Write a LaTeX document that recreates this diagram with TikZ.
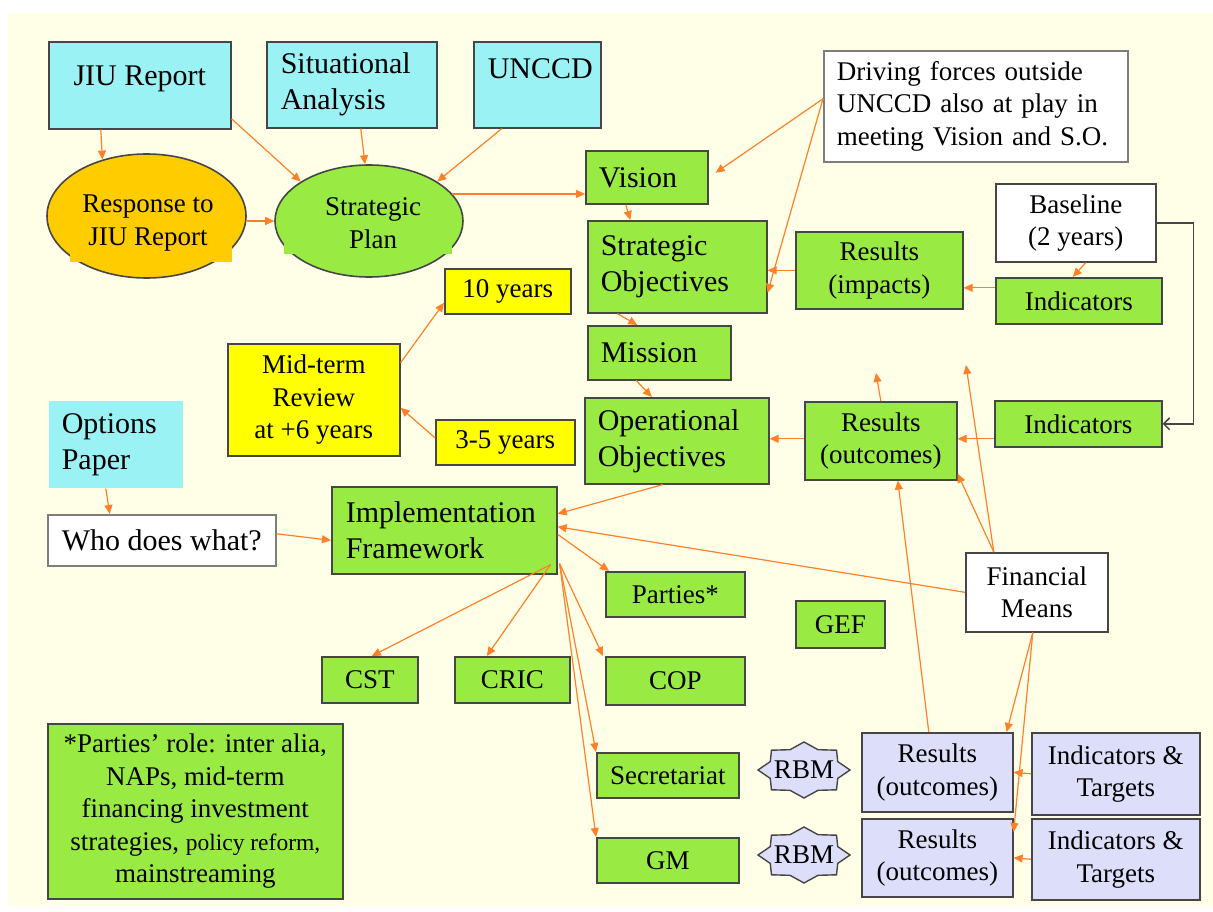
\documentclass[tikz,border=0pt]{standalone}
\usepackage{fontspec}
\setmainfont{Liberation Serif}
\usetikzlibrary{arrows.meta,shapes.geometric}
\definecolor{cream}{RGB}{255,255,232}
\definecolor{cyanbox}{RGB}{155,242,245}
\definecolor{greenbox}{RGB}{153,235,68}
\definecolor{goldbox}{RGB}{255,204,0}
\definecolor{yelbox}{RGB}{255,255,0}
\definecolor{lavbox}{RGB}{221,222,250}
\definecolor{arr}{RGB}{255,128,40}
\definecolor{edge}{RGB}{70,70,70}
\definecolor{greyedge}{RGB}{125,125,125}
\newcommand\fntA{\fontsize{27}{32.5}\selectfont}
\newcommand\fntB{\fontsize{30}{36}\selectfont}
\begin{document}
\begin{tikzpicture}[x=1pt,y=-1pt,
  bx/.style={draw=edge, line width=1.6pt, anchor=north west, inner sep=0pt, font=\fntA, align=center},
  lt/.style={align=left, text width=#1, inner xsep=13pt, font=\fntB},
  sz/.style 2 args={minimum width=#1, minimum height=#2},
  ar/.style={draw=arr, line width=1.2pt, -{Triangle[length=9pt,width=8pt]}},
  blk/.style={draw=edge, line width=1.5pt, -{Straight Barb[length=6pt,width=12pt]}},
  ell/.style={ellipse, draw=edge, line width=1.6pt, inner sep=0pt},
  rbmstyle/.style={draw=edge, line width=1.4pt, fill=lavbox},
  txt/.style={font=\fntA, align=center, inner sep=0pt}
]
\useasboundingbox (0,0) rectangle (1213,912);
\fill[white] (0,0) rectangle (1213,912);
\fill[cream] (8,13) rectangle (1213,906);

% top row
\node[bx, fill=cyanbox, sz={182pt}{87pt}, font=\fntB] (jiu) at (48,41) {\raisebox{6pt}[\height][\depth]{JIU Report}};
\node[bx, fill=cyanbox, sz={170pt}{86pt}, lt=142pt, inner xsep=14pt] (sit) at (266,41) {Situational\\Analysis};
\node[bx, fill=cyanbox, sz={127pt}{86pt}, lt=99pt, inner xsep=14pt] (unccd) at (473,41) {\raisebox{16pt}[\height][\depth]{UNCCD}};
\node[bx, draw=greyedge, fill=white, sz={304pt}{111pt}, lt=278pt, font=\fntA] (drive) at (823,50) {Driving forces outside\\UNCCD also at play in\\meeting Vision and S.O.};

% ellipses
\node[ell, fill=goldbox, minimum width=199pt, minimum height=124pt] (resp) at (146.5,216) {};
\fill[goldbox] (70,200) rectangle (232,262);
\node[txt] (resptxt) at (148,223) {Response to\\JIU Report};
\node[ell, fill=greenbox, minimum width=188pt, minimum height=112pt] (sp) at (369,221) {};
\fill[greenbox] (284,200) rectangle (452,254);
\node[txt] (sptxt) at (373,223) {Strategic\\Plan};

% vision / objectives column
\node[bx, fill=greenbox, sz={122pt}{53pt}, lt=96pt] (vision) at (585,150) {Vision};
\node[bx, fill=greenbox, sz={179pt}{92pt}, lt=153pt] (so) at (587,220) {Strategic\\Objectives};
\node[bx, fill=greenbox, sz={143pt}{54pt}, lt=117pt] (mission) at (587,325) {Mission};
\node[bx, fill=greenbox, sz={184pt}{86pt}, lt=158pt] (oo) at (584,397) {Operational\\Objectives};

% results / indicators
\node[bx, fill=greenbox, sz={167pt}{77pt}] (resimp) at (795,231) {Results\\(impacts)};
\node[bx, fill=white, sz={160pt}{78pt}] (base) at (995,183) {Baseline\\(2 years)};
\node[bx, fill=greenbox, sz={166pt}{46pt}] (indtop) at (995,277) {Indicators};
\node[bx, fill=greenbox, sz={152pt}{78pt}] (resout) at (804,401) {Results\\(outcomes)};
\node[bx, fill=greenbox, sz={167pt}{46pt}] (indmid) at (994,400) {Indicators};

% review
\node[bx, fill=yelbox, sz={126pt}{45pt}] (tenyr) at (444,268) {10 years};
\node[bx, fill=yelbox, sz={172pt}{112pt}] (mid) at (227,343) {Mid-term\\Review\\at +6 years};
\node[bx, fill=yelbox, sz={139pt}{45pt}] (tfyr) at (435,419) {3-5 years};

% left side
\node[bx, draw=none, fill=cyanbox, sz={134pt}{87pt}, lt=108pt] (opt) at (48,400) {Options\\Paper};
\node[bx, draw=greyedge, fill=white, sz={228pt}{51pt}, font=\fntB] (who) at (47,514) {Who does what?};
\node[bx, fill=greenbox, sz={225pt}{87pt}, lt=197pt, inner xsep=14pt] (ifw) at (331,486) {Implementation\\Framework};

% actors
\node[bx, fill=greenbox, sz={139pt}{45pt}] (parties) at (605,571) {Parties*};
\node[bx, fill=greenbox, sz={89pt}{47pt}] (gef) at (795,600) {GEF};
\node[bx, fill=white, sz={142pt}{79pt}] (fm) at (965,552) {Financial\\Means};
\node[bx, fill=greenbox, sz={96pt}{46pt}] (cst) at (321,656) {CST};
\node[bx, fill=greenbox, sz={115pt}{46pt}] (cric) at (454,656) {CRIC};
\node[bx, fill=greenbox, sz={139pt}{48pt}] (cop) at (605,656) {COP};
\node[bx, fill=greenbox, sz={295pt}{175pt}] (role) at (47,723) {*Parties’ role: inter alia,\\NAPs, mid-term\\financing investment\\strategies, {\fontsize{23.5}{32.5}\selectfont policy reform,}\\mainstreaming};
\node[bx, fill=greenbox, sz={142pt}{45pt}] (sec) at (596,752) {Secretariat};
\node[bx, fill=greenbox, sz={142pt}{45pt}] (gm) at (596,837) {GM};

% RBM stars
\foreach \cx/\cy/\nm in {804/770/rbmA, 804/855/rbmB}{
  \draw[rbmstyle, shift={(\cx,\cy)}] (0:46pt and 28pt)
    \foreach \a [evaluate=\a as \b using \a+22.5, evaluate=\a as \c using \a+45] in {0,45,...,315}
      { -- (\b:36.5pt and 22pt) -- (\c:46pt and 28pt)} -- cycle;
  \node[txt] (\nm) at (\cx,\cy) {RBM};
}

% lavender boxes
\node[bx, fill=lavbox, sz={151pt}{79pt}] (resA) at (861,732) {Results\\(outcomes)};
\node[bx, fill=lavbox, sz={168pt}{82pt}] (itA) at (1031,732) {Indicators \&\\Targets};
\node[bx, fill=lavbox, sz={151pt}{78pt}] (resB) at (861,818) {Results\\(outcomes)};
\node[bx, fill=lavbox, sz={168pt}{81pt}] (itB) at (1031,818) {Indicators \&\\Targets};

% connectors
\draw[ar] ([xshift=-39pt]jiu.south) -- (resp.128);
\draw[ar] ([yshift=-33.5pt]jiu.east) -- (sp.150);
\draw[ar] ([xshift=9pt]sit.south) -- (sp.94);
\draw[ar] ([xshift=-35.5pt]unccd.south) -- (sp.30);
\draw[ar] ([yshift=-5pt]resp.east) -- (sp.west);
\draw[ar] (sp.18) -- (sp.18 -| vision.west);
\draw[ar] ([yshift=7.5pt]drive.west) -- ([xshift=7pt,yshift=4.5pt]vision.east);
\draw[ar] ([yshift=7.5pt]drive.west) -- ([yshift=-26pt]so.east);
\draw[ar] ([xshift=-21pt]vision.south) -- ([xshift=-47pt]so.north);
\draw[ar] (resimp.west) -- (resimp.west -| so.east);
\draw[ar] ([yshift=13pt]indtop.west) -- ([yshift=13pt]indtop.west -| resimp.east);
\draw[ar] ([xshift=10pt]base.south) -- ([xshift=-6pt]indtop.north);
\draw[ar] ([xshift=-60pt]so.south) -- ([xshift=-22pt]mission.north);
\draw[ar] ([xshift=-23pt]mission.south) -- ([xshift=-25pt]oo.north);
\draw[ar] ([yshift=37pt]mid.east) -- ([yshift=-11.5pt]tenyr.west);
\draw[ar] ([yshift=4.5pt]tfyr.west) -- ([yshift=-8pt]mid.east);
\draw[ar] ([yshift=2pt]resout.west) -- ([yshift=2pt]resout.west -| oo.east);
\draw[ar] ([yshift=-15pt]indmid.west) -- ([yshift=-15pt]indmid.west -| resout.east);
\coordinate (upA) at (876,373);
\coordinate (upB) at (966,365);
\draw[ar] (resout.north) -- (upA);
\draw[ar] ([xshift=-43pt]fm.north) -- (upB);
\draw[ar] ([xshift=-43pt]fm.north) -- ([yshift=7pt]resout.south east);
\draw[ar] ([xshift=-8.5pt]resA.north) -- ([xshift=17pt]resout.south);
\draw[ar] ([xshift=-14pt]oo.south) -- ([yshift=16.5pt]ifw.east);
\draw[ar] (fm.west) -- ([yshift=3.5pt]ifw.east);
\draw[ar] ([yshift=6.5pt]who.east) -- ([yshift=-10pt]ifw.west);
\draw[ar] ([xshift=-10pt]opt.south) -- ([xshift=-52pt]who.north);
\draw[ar] ([yshift=-4pt]ifw.east) -- ([xshift=4pt]parties.north west);
\draw[ar] ([xshift=-7pt,yshift=10pt]ifw.south east) -- ([xshift=2pt]cst.north);
\draw[ar] ([xshift=-7pt,yshift=10pt]ifw.south east) -- ([xshift=-25.5pt]cric.north);
\draw[ar] ([xshift=2pt,yshift=11pt]ifw.south east) -- ([xshift=-2pt]cop.north west);
\draw[ar] ([xshift=2pt,yshift=11pt]ifw.south east) -- (sec.north west);
\draw[ar] ([xshift=2pt,yshift=11pt]ifw.south east) -- (gm.north west);
\draw[ar] ([xshift=-4pt]fm.south) -- ([xshift=-7pt]resA.north east);
\draw[ar] ([xshift=-4pt]fm.south) -- ([yshift=-14pt]resB.north east);
\draw[ar] (itA.west) -- (resA.east);
\draw[ar] (itB.west) -- (resB.east);
\draw[blk] (base.east) -- ++(37,0) |- (indmid.east);
\end{tikzpicture}
\end{document}
